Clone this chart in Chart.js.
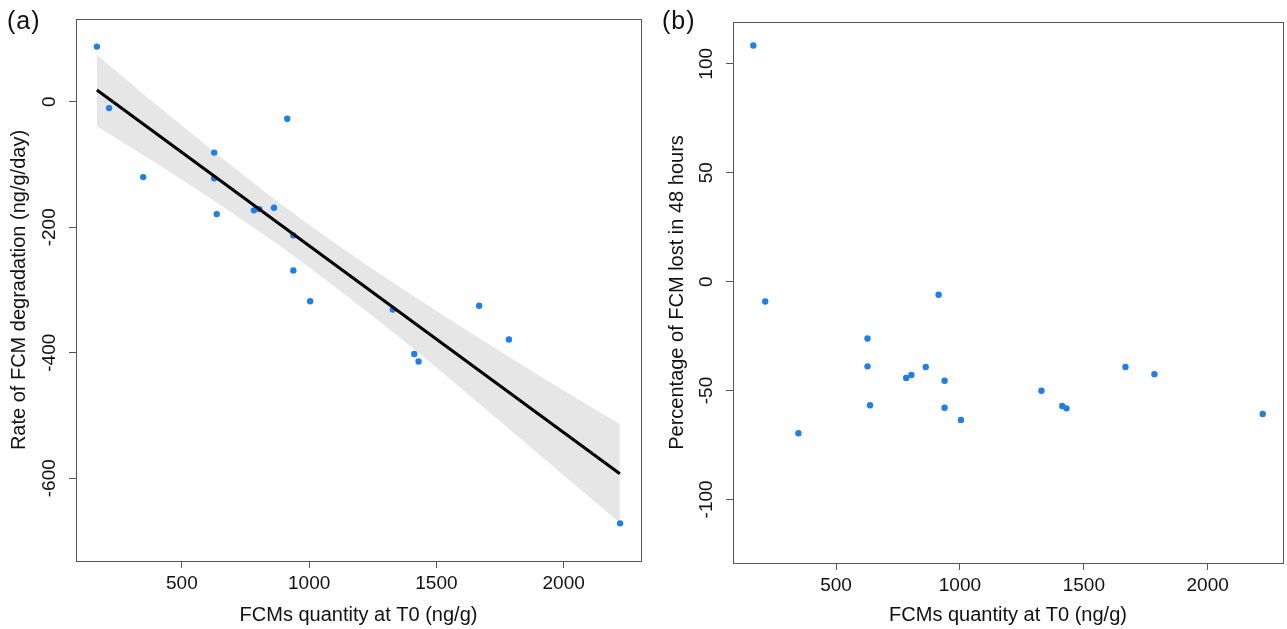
<!DOCTYPE html>
<html lang="en">
  <head>
    <meta charset="UTF-8" />
    <title>FCM degradation</title>
    <script src="https://cdn.jsdelivr.net/npm/chart.js"></script>
    <style>
      body { margin: 0; background: #fff; width: 1287px; height: 629px; position: relative; overflow: hidden; }
      canvas { position: absolute; top: 0; }
      #chartA { left: 0; }
      #chartB { left: 645px; }
      .painel { position: absolute; top: 6px; font-family: "Liberation Sans", Arial, sans-serif; font-size: 25px; color: #111; letter-spacing: 1px; }
    </style>
  </head>
  <body>
    <canvas id="chartA" width="645" height="629"></canvas>
    <canvas id="chartB" width="642" height="629"></canvas>
    <div class="painel" style="left:7px">(a)</div>
    <div class="painel" style="left:662px">(b)</div>

<script>
  // FCMs quantity at T0 (ng/g), one value per sample
  const fcmT0 = [166, 214, 914, 627, 627, 783, 804, 862, 938, 637, 938, 1004, 348, 1329, 1413, 1430, 1668, 1785, 2222];
  // (a) rate of degradation (ng/g/day)
  const taxa = [88, -10, -27, -81, -122, -173, -171, -169, -213, -179, -269, -318, -120, -331, -402, -414, -325, -379, -672];
  // (b) percentage lost in 48 hours
  const perda48h = [108.4, -9.1, -6.0, -26.1, -38.9, -44.2, -42.9, -39.2, -45.5, -56.8, -57.9, -63.5, -69.6, -50.1, -57.1, -58.2, -39.2, -42.5, -60.8];

  // fitted line and confidence band of (a)
  const ajusteX = [166, 2221];
  const ajusteY = [18.7, -593];
  const bandaX = [166, 415, 650, 886, 1000, 1150, 1396, 1650, 1906, 2221];
  const bandaSup = [75, -10, -87, -162, -196, -239, -306, -372, -437, -514];
  const bandaInf = [-39, -102, -164, -230, -264, -310, -389, -475, -563, -671];

  const ticksX = [500, 1000, 1500, 2000];
  const ticksYA = [-600, -400, -200, 0];
  const ticksYB = [-100, -50, 0, 50, 100];

  const fonte = "'Liberation Sans', Arial, sans-serif";
  const corPonto = "#1f7fe5";
  const corEixo = "#555";

  function pares(xs, ys) {
    return xs.map(function (x, i) { return { x: x, y: ys[i] }; });
  }

  // draws the full box round the plot region, like R's bty="o"
  const caixa = {
    id: "caixa",
    afterDraw(chart) {
      const a = chart.chartArea;
      const ctx = chart.ctx;
      ctx.save();
      ctx.strokeStyle = corEixo;
      ctx.lineWidth = 1;
      ctx.strokeRect(Math.round(a.left) + 0.5, Math.round(a.top) + 0.5, Math.round(a.right - a.left), Math.round(a.bottom - a.top));
      ctx.restore();
    },
  };

  function semMilhar(v) {
    return String(v);
  }

  function eixoX(xTitulo, altura) {
    return {
      type: "linear",
      min: 84,
      max: 2304,
      afterFit: function (s) { s.height = altura; },
      afterBuildTicks: function (s) { s.ticks = ticksX.map(function (v) { return { value: v }; }); },
      grid: { drawOnChartArea: false, drawTicks: true, tickLength: 7, color: corEixo },
      border: { display: true, color: corEixo },
      ticks: { color: "#111", padding: 4, callback: semMilhar, font: { family: fonte, size: 19 } },
      title: { display: true, text: xTitulo, color: "#111", padding: { top: 0, bottom: 2 }, font: { family: fonte, size: 20 } },
    };
  }

  function eixoY(min, max, lista, titulo, largura, tituloPad) {
    return {
      type: "linear",
      min: min,
      max: max,
      afterFit: function (s) { s.width = largura; },
      afterBuildTicks: function (s) { s.ticks = lista.map(function (v) { return { value: v }; }); },
      grid: { drawOnChartArea: false, drawTicks: true, tickLength: 7, color: corEixo },
      border: { display: true, color: corEixo },
      ticks: { color: "#111", padding: 0, minRotation: 90, maxRotation: 90, crossAlign: "center", callback: semMilhar, font: { family: fonte, size: 19 } },
      title: { display: true, text: titulo, color: "#111", padding: { top: tituloPad, bottom: 0 }, font: { family: fonte, size: 20 } },
    };
  }

  const opcoesBase = {
    responsive: false,
    animation: false,
    devicePixelRatio: 1,
    plugins: { legend: { display: false }, tooltip: { enabled: false } },
  };

  new Chart(document.getElementById("chartA"), {
    type: "scatter",
    data: {
      datasets: [
        {
          label: "ajuste",
          data: pares(ajusteX, ajusteY),
          showLine: true,
          borderColor: "#000",
          borderWidth: 3,
          pointRadius: 0,
          order: 0,
        },
        {
          label: "amostras",
          data: pares(fcmT0, taxa),
          backgroundColor: corPonto,
          borderWidth: 0,
          pointRadius: 3.2,
          order: 1,
        },
        {
          label: "IC sup",
          data: pares(bandaX, bandaSup),
          showLine: true,
          borderWidth: 0,
          borderColor: "rgba(0,0,0,0)",
          backgroundColor: "#e6e6e6",
          pointRadius: 0,
          cubicInterpolationMode: "monotone",
          fill: "+1",
          order: 2,
        },
        {
          label: "IC inf",
          data: pares(bandaX, bandaInf),
          showLine: true,
          borderWidth: 0,
          borderColor: "rgba(0,0,0,0)",
          pointRadius: 0,
          cubicInterpolationMode: "monotone",
          order: 3,
        },
      ],
    },
    options: Object.assign({}, opcoesBase, {
      layout: { padding: { left: 0, top: 19, right: 4, bottom: 0 } },
      scales: {
        x: eixoX("FCMs quantity at T0 (ng/g)", 68),
        y: eixoY(-732, 132, ticksYA, "Rate of FCM degradation (ng/g/day)", 76, 7),
      },
    }),
    plugins: [caixa],
  });

  new Chart(document.getElementById("chartB"), {
    type: "scatter",
    data: {
      datasets: [
        {
          label: "amostras",
          data: pares(fcmT0, perda48h),
          backgroundColor: corPonto,
          borderWidth: 0,
          pointRadius: 3.2,
        },
      ],
    },
    options: Object.assign({}, opcoesBase, {
      layout: { padding: { left: 0, top: 22, right: 1, bottom: 0 } },
      scales: {
        x: eixoX("FCMs quantity at T0 (ng/g)", 66),
        y: eixoY(-129.2, 119.2, ticksYB, "Percentage of FCM lost in 48 hours", 88, 20),
      },
    }),
    plugins: [caixa],
  });
</script>
  </body>
</html>
